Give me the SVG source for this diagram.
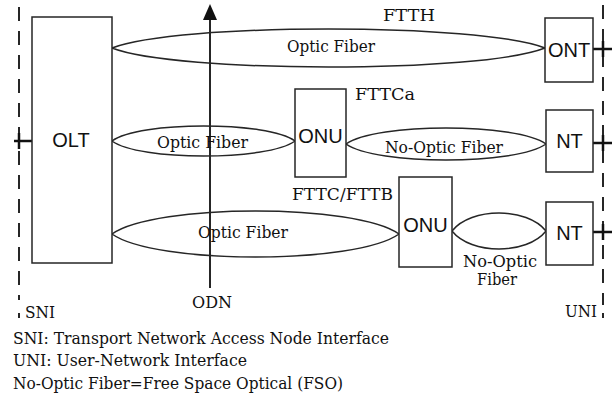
<svg xmlns="http://www.w3.org/2000/svg" width="616" height="398" viewBox="0 0 616 398">
<style>
.box{fill:#fff;stroke:#262626;stroke-width:1.5}
.fib{fill:none;stroke:#262626;stroke-width:1.5}
.dash{stroke:#262626;stroke-width:2;stroke-dasharray:14 10;fill:none}
.tick{stroke:#111;stroke-width:2.5}
.sans{font-family:"Liberation Sans",Arial,sans-serif;font-size:20px;fill:#111;text-anchor:middle}
.ser{font-family:"DejaVu Serif","Liberation Serif",serif;font-size:16px;fill:#111}
</style>
<rect width="616" height="398" fill="#fff"/>
<g id="interfaces">
<line class="dash" x1="19" y1="7" x2="19" y2="300"/>
<line class="dash" x1="603" y1="5" x2="603" y2="305"/>
<line stroke="#262626" stroke-width="2" x1="19" y1="313" x2="19" y2="318"/>
<line stroke="#262626" stroke-width="2" x1="603" y1="313" x2="603" y2="318"/>
<text class="ser" x="25" y="318" textLength="30" lengthAdjust="spacingAndGlyphs">SNI</text>
<text class="ser" x="565" y="317" textLength="32" lengthAdjust="spacingAndGlyphs">UNI</text>
</g>
<g id="connectors">
<line stroke="#262626" stroke-width="2" x1="210" y1="18" x2="210" y2="288"/>
<polygon points="210,4 203,20 217,20" fill="#111"/>
<path class="fib" d="M112,48 C177,22.7 480,22.7 545,48 C480,73.3 177,73.3 112,48 Z"/>
<path class="fib" d="M112,141 C139,121 268,121 295,141 C268,161 139,161 112,141 Z"/>
<path class="fib" d="M346,144 C376,122.7 516,122.7 546,144 C516,165.3 376,165.3 346,144 Z"/>
<path class="fib" d="M112,234 C155,203.3 356,203.3 399,234 C356,264.7 155,264.7 112,234 Z"/>
<path class="fib" d="M452,231 C471,207 527,207 546,231 C527,255 471,255 452,231 Z"/>
<line class="tick" x1="14" y1="141" x2="32" y2="141"/>
<line class="tick" x1="19" y1="133" x2="19" y2="149"/>
<line class="tick" x1="593" y1="49" x2="612" y2="49"/>
<line class="tick" x1="603" y1="41" x2="603" y2="57"/>
<line class="tick" x1="593" y1="143" x2="612" y2="143"/>
<line class="tick" x1="603" y1="135" x2="603" y2="151"/>
<line class="tick" x1="593" y1="232" x2="612" y2="232"/>
<line class="tick" x1="603" y1="224" x2="603" y2="240"/>
<text class="ser" x="383" y="21" textLength="52" lengthAdjust="spacingAndGlyphs">FTTH</text>
<text class="ser" x="287" y="52" textLength="88" lengthAdjust="spacingAndGlyphs">Optic Fiber</text>
<text class="ser" x="355" y="100" textLength="60" lengthAdjust="spacingAndGlyphs">FTTCa</text>
<text class="ser" x="157" y="148" textLength="91" lengthAdjust="spacingAndGlyphs">Optic Fiber</text>
<text class="ser" x="385" y="153" textLength="118" lengthAdjust="spacingAndGlyphs">No-Optic Fiber</text>
<text class="ser" x="292" y="200" textLength="101" lengthAdjust="spacingAndGlyphs">FTTC/FTTB</text>
<text class="ser" x="198" y="238" textLength="90" lengthAdjust="spacingAndGlyphs">Optic Fiber</text>
<text class="ser" x="463" y="267" textLength="74" lengthAdjust="spacingAndGlyphs">No-Optic</text>
<text class="ser" x="477" y="285" textLength="40" lengthAdjust="spacingAndGlyphs">Fiber</text>
<text class="ser" x="192" y="308" textLength="40" lengthAdjust="spacingAndGlyphs">ODN</text>
</g>
<g id="olt">
<rect class="box" x="32" y="17" width="80" height="246"/>
<text class="sans" x="71" y="147">OLT</text>
</g>
<g id="ont">
<rect class="box" x="545" y="18" width="48" height="64"/>
<text class="sans" x="569" y="57">ONT</text>
</g>
<g id="onu1">
<rect class="box" x="295" y="89" width="51" height="88"/>
<text class="sans" x="320.5" y="143">ONU</text>
</g>
<g id="nt1">
<rect class="box" x="546" y="110" width="47" height="62"/>
<text class="sans" x="569.5" y="148">NT</text>
</g>
<g id="onu2">
<rect class="box" x="399" y="177" width="53" height="90"/>
<text class="sans" x="425.5" y="232">ONU</text>
</g>
<g id="nt2">
<rect class="box" x="546" y="202" width="47" height="63"/>
<text class="sans" x="569.5" y="240">NT</text>
</g>
<g id="legend">
<text class="ser" x="13" y="344" textLength="376" lengthAdjust="spacingAndGlyphs">SNI: Transport Network Access Node Interface</text>
<text class="ser" x="13" y="366" textLength="234" lengthAdjust="spacingAndGlyphs">UNI: User-Network Interface</text>
<text class="ser" x="13" y="389" textLength="330" lengthAdjust="spacingAndGlyphs">No-Optic Fiber=Free Space Optical (FSO)</text>
</g>
</svg>
